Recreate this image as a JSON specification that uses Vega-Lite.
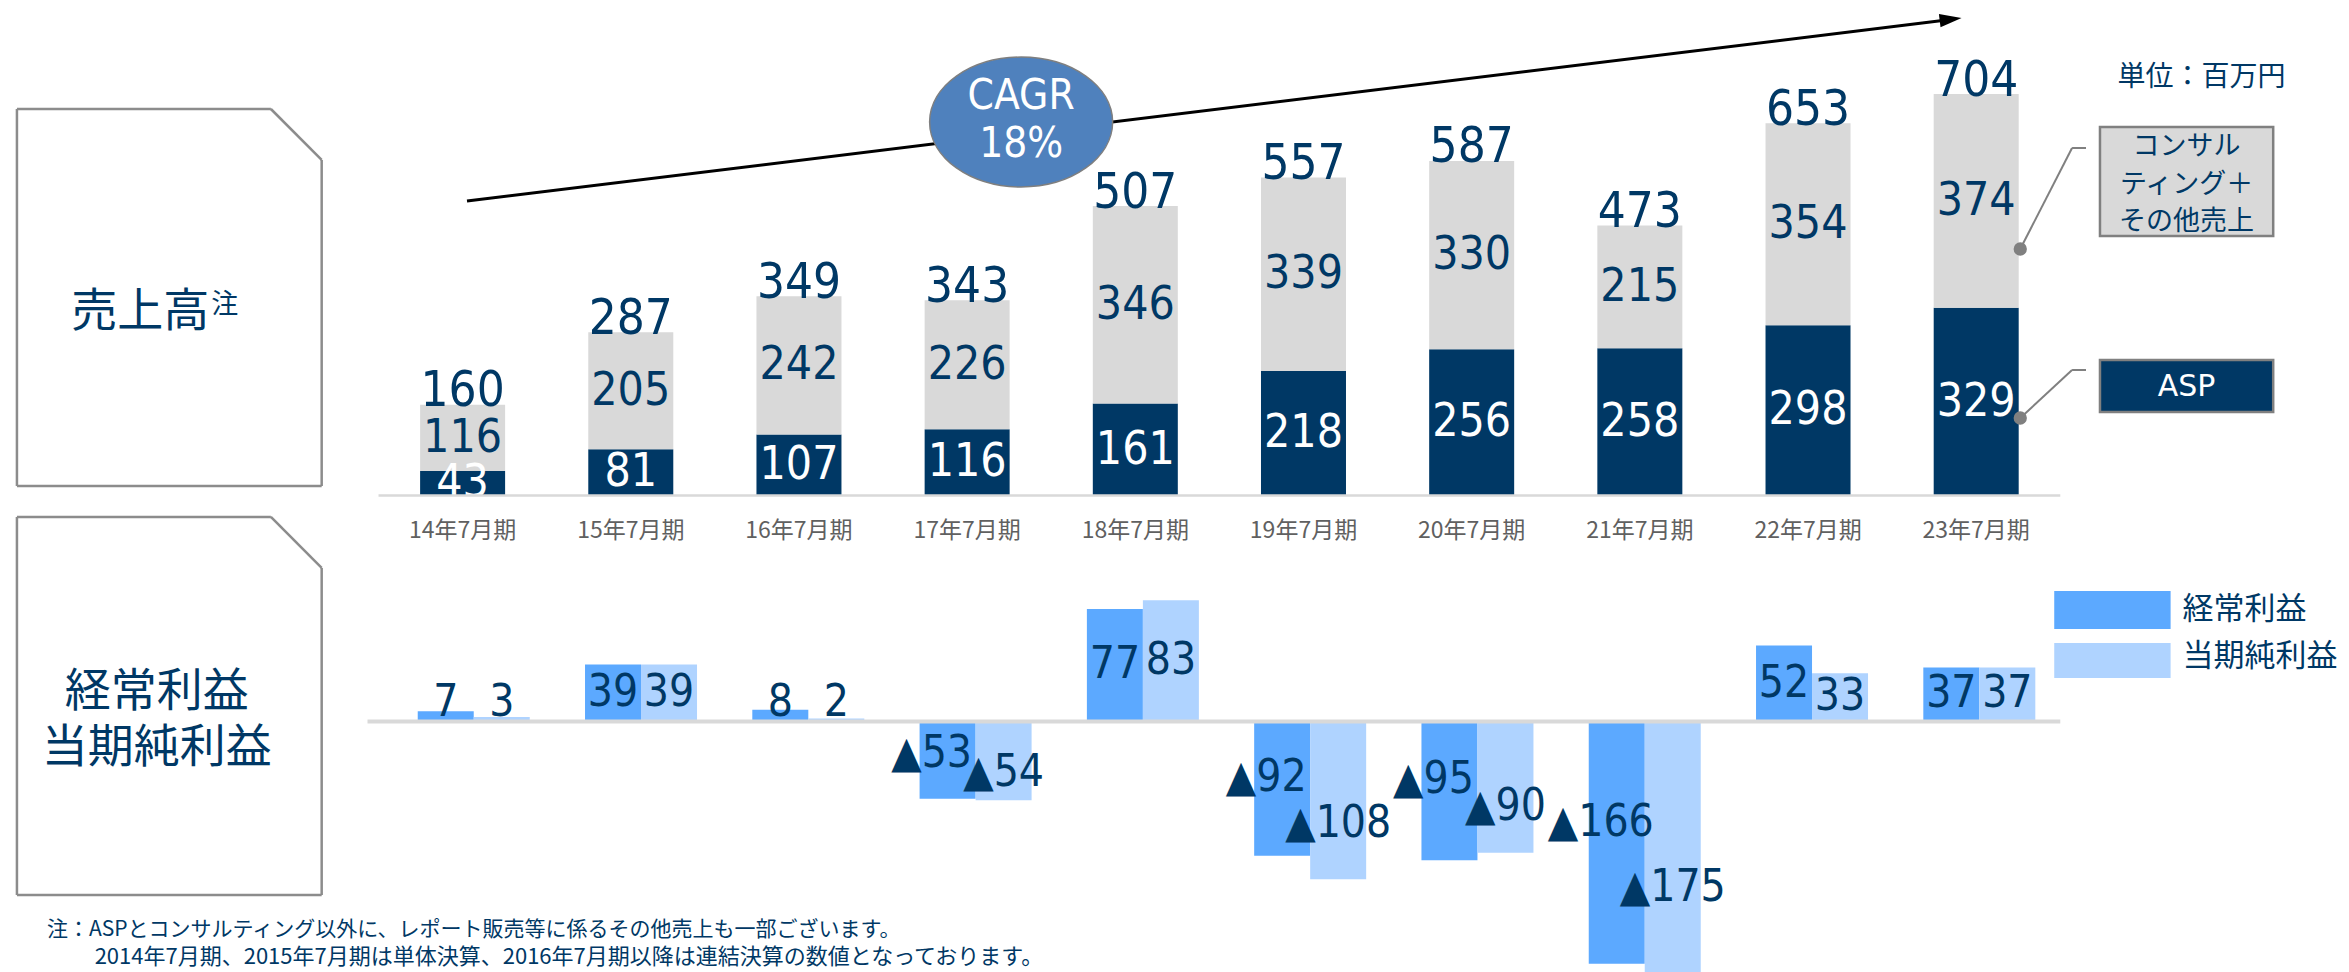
{
  "$schema": "https://vega.github.io/schema/vega-lite/v6.json",
  "width": 2349,
  "height": 972,
  "autosize": {"type": "none"},
  "padding": 0,
  "background": "#ffffff",
  "config": {
    "view": {"stroke": null},
    "axis": {"disable": true},
    "legend": {"disable": true},
    "locale": {"number": {"decimal": ".", "thousands": ",", "grouping": [3], "currency": ["", ""], "minus": "▲"}}
  },
  "datasets": {
    "sales": [
      {"period": "14年7月期", "year": 2014, "segment": "ASP", "value": 43},
      {"period": "14年7月期", "year": 2014, "segment": "コンサルティング＋その他売上", "value": 116},
      {"period": "15年7月期", "year": 2015, "segment": "ASP", "value": 81},
      {"period": "15年7月期", "year": 2015, "segment": "コンサルティング＋その他売上", "value": 205},
      {"period": "16年7月期", "year": 2016, "segment": "ASP", "value": 107},
      {"period": "16年7月期", "year": 2016, "segment": "コンサルティング＋その他売上", "value": 242},
      {"period": "17年7月期", "year": 2017, "segment": "ASP", "value": 116},
      {"period": "17年7月期", "year": 2017, "segment": "コンサルティング＋その他売上", "value": 226},
      {"period": "18年7月期", "year": 2018, "segment": "ASP", "value": 161},
      {"period": "18年7月期", "year": 2018, "segment": "コンサルティング＋その他売上", "value": 346},
      {"period": "19年7月期", "year": 2019, "segment": "ASP", "value": 218},
      {"period": "19年7月期", "year": 2019, "segment": "コンサルティング＋その他売上", "value": 339},
      {"period": "20年7月期", "year": 2020, "segment": "ASP", "value": 256},
      {"period": "20年7月期", "year": 2020, "segment": "コンサルティング＋その他売上", "value": 330},
      {"period": "21年7月期", "year": 2021, "segment": "ASP", "value": 258},
      {"period": "21年7月期", "year": 2021, "segment": "コンサルティング＋その他売上", "value": 215},
      {"period": "22年7月期", "year": 2022, "segment": "ASP", "value": 298},
      {"period": "22年7月期", "year": 2022, "segment": "コンサルティング＋その他売上", "value": 354},
      {"period": "23年7月期", "year": 2023, "segment": "ASP", "value": 329},
      {"period": "23年7月期", "year": 2023, "segment": "コンサルティング＋その他売上", "value": 374}
    ],
    "totals": [
      {"period": "14年7月期", "year": 2014, "total": 160},
      {"period": "15年7月期", "year": 2015, "total": 287},
      {"period": "16年7月期", "year": 2016, "total": 349},
      {"period": "17年7月期", "year": 2017, "total": 343},
      {"period": "18年7月期", "year": 2018, "total": 507},
      {"period": "19年7月期", "year": 2019, "total": 557},
      {"period": "20年7月期", "year": 2020, "total": 587},
      {"period": "21年7月期", "year": 2021, "total": 473},
      {"period": "22年7月期", "year": 2022, "total": 653},
      {"period": "23年7月期", "year": 2023, "total": 704}
    ],
    "profit": [
      {"period": "14年7月期", "year": 2014, "kind": "経常利益", "value": 7},
      {"period": "14年7月期", "year": 2014, "kind": "当期純利益", "value": 3},
      {"period": "15年7月期", "year": 2015, "kind": "経常利益", "value": 39},
      {"period": "15年7月期", "year": 2015, "kind": "当期純利益", "value": 39},
      {"period": "16年7月期", "year": 2016, "kind": "経常利益", "value": 8},
      {"period": "16年7月期", "year": 2016, "kind": "当期純利益", "value": 2},
      {"period": "17年7月期", "year": 2017, "kind": "経常利益", "value": -53},
      {"period": "17年7月期", "year": 2017, "kind": "当期純利益", "value": -54},
      {"period": "18年7月期", "year": 2018, "kind": "経常利益", "value": 77},
      {"period": "18年7月期", "year": 2018, "kind": "当期純利益", "value": 83},
      {"period": "19年7月期", "year": 2019, "kind": "経常利益", "value": -92},
      {"period": "19年7月期", "year": 2019, "kind": "当期純利益", "value": -108},
      {"period": "20年7月期", "year": 2020, "kind": "経常利益", "value": -95},
      {"period": "20年7月期", "year": 2020, "kind": "当期純利益", "value": -90},
      {"period": "21年7月期", "year": 2021, "kind": "経常利益", "value": -166},
      {"period": "21年7月期", "year": 2021, "kind": "当期純利益", "value": -175},
      {"period": "22年7月期", "year": 2022, "kind": "経常利益", "value": 52},
      {"period": "22年7月期", "year": 2022, "kind": "当期純利益", "value": 33},
      {"period": "23年7月期", "year": 2023, "kind": "経常利益", "value": 37},
      {"period": "23年7月期", "year": 2023, "kind": "当期純利益", "value": 37}
    ]
  },
  "layer": [
    {
      "layer": [
        {
          "data": {"name": "sales"},
          "mark": {"type": "bar", "orient": "vertical", "width": 85},
          "encoding": {
            "x": {"field": "year", "type": "quantitative", "scale": {"domain": [2011.279, 2025.187], "nice": false, "zero": false}, "axis": null},
            "y": {"field": "value", "type": "quantitative", "stack": "zero", "scale": {"domain": [-834.5, 867.8], "nice": false, "zero": false}, "axis": null},
            "color": {"field": "segment", "type": "nominal", "scale": {"domain": ["ASP", "コンサルティング＋その他売上"], "range": ["#003865", "#D9D9D9"]}, "legend": null},
            "order": {"field": "segment", "sort": "ascending"}
          }
        },
        {
          "data": {"name": "sales"},
          "mark": {"type": "text", "font": "DejaVu Sans Condensed, DejaVu Sans", "fontSize": 46, "baseline": "middle", "align": "center"},
          "encoding": {
            "x": {"field": "year", "type": "quantitative", "scale": {"domain": [2011.279, 2025.187], "nice": false, "zero": false}, "axis": null},
            "y": {"field": "value", "type": "quantitative", "stack": "zero", "bandPosition": 0.5, "scale": {"domain": [-834.5, 867.8], "nice": false, "zero": false}, "axis": null},
            "detail": {"field": "segment"},
            "order": {"field": "segment", "sort": "ascending"},
            "text": {"field": "value", "type": "quantitative"},
            "color": {"condition": {"test": "datum.segment === 'ASP'", "value": "#ffffff"}, "value": "#003865"}
          }
        },
        {
          "data": {"name": "totals"},
          "mark": {"type": "text", "font": "DejaVu Sans Condensed, DejaVu Sans", "fontSize": 49, "baseline": "alphabetic", "align": "center", "dy": 2, "color": "#003865"},
          "encoding": {
            "x": {"field": "year", "type": "quantitative", "scale": {"domain": [2011.279, 2025.187], "nice": false, "zero": false}, "axis": null},
            "y": {"field": "total", "type": "quantitative", "scale": {"domain": [-834.5, 867.8], "nice": false, "zero": false}, "axis": null},
            "text": {"field": "total", "type": "quantitative"}
          }
        },
        {
          "data": {"name": "totals"},
          "mark": {"type": "text", "font": "Noto Sans CJK JP", "fontSize": 23, "baseline": "middle", "align": "center", "dy": 35, "color": "#606060"},
          "encoding": {
            "x": {"field": "year", "type": "quantitative", "scale": {"domain": [2011.279, 2025.187], "nice": false, "zero": false}, "axis": null},
            "y": {"datum": 0, "type": "quantitative", "scale": {"domain": [-834.5, 867.8], "nice": false, "zero": false}, "axis": null},
            "text": {"field": "period", "type": "nominal"}
          }
        },
        {
          "data": {"values": [{}]},
          "layer": [
            {"mark": {"type": "rule", "stroke": "#D9D9D9", "strokeWidth": 2.5},
             "encoding": {"x": {"datum": 2013.5, "type": "quantitative", "scale": {"domain": [2011.279, 2025.187], "nice": false, "zero": false}}, "x2": {"datum": 2023.5}, "y": {"datum": 0, "type": "quantitative", "scale": {"domain": [-834.5, 867.8], "nice": false, "zero": false}}}},
            {"mark": {"type": "rule", "stroke": "#000000", "strokeWidth": 3},
             "encoding": {"x": {"datum": 2014.026, "type": "quantitative", "scale": {"domain": [2011.279, 2025.187], "nice": false, "zero": false}}, "x2": {"datum": 2022.824}, "y": {"datum": 515.8, "type": "quantitative", "scale": {"domain": [-834.5, 867.8], "nice": false, "zero": false}}, "y2": {"datum": 832.7}}},
            {"mark": {"type": "point", "shape": "M0,-1L0.6,1L-0.6,1Z", "size": 484, "angle": 83, "filled": true, "color": "#000000", "opacity": 1},
             "encoding": {"x": {"datum": 2022.848, "type": "quantitative", "scale": {"domain": [2011.279, 2025.187], "nice": false, "zero": false}}, "y": {"datum": 834.0, "type": "quantitative", "scale": {"domain": [-834.5, 867.8], "nice": false, "zero": false}}}},
            {"mark": {"type": "point", "shape": "M-1,0A1,0.71,0,1,0,1,0A1,0.71,0,1,0,-1,0Z", "size": 33489, "filled": true, "fill": "#4F81BD", "stroke": "#7F7F7F", "strokeWidth": 1.5, "opacity": 1},
             "encoding": {"x": {"datum": 2017.321, "type": "quantitative", "scale": {"domain": [2011.279, 2025.187], "nice": false, "zero": false}}, "y": {"datum": 654.1, "type": "quantitative", "scale": {"domain": [-834.5, 867.8], "nice": false, "zero": false}}}},
            {"mark": {"type": "text", "text": ["CAGR", "18%"], "lineHeight": 48, "font": "DejaVu Sans Condensed, DejaVu Sans", "fontSize": 42, "baseline": "middle", "align": "center", "color": "#ffffff"},
             "encoding": {"x": {"datum": 2017.321, "type": "quantitative", "scale": {"domain": [2011.279, 2025.187], "nice": false, "zero": false}}, "y": {"datum": 699.6, "type": "quantitative", "scale": {"domain": [-834.5, 867.8], "nice": false, "zero": false}}}},
            {"mark": {"type": "text", "text": "単位：百万円", "font": "Noto Sans CJK JP", "fontSize": 28, "baseline": "middle", "align": "center", "color": "#003865"},
             "encoding": {"x": {"datum": 2024.34, "type": "quantitative", "scale": {"domain": [2011.279, 2025.187], "nice": false, "zero": false}}, "y": {"datum": 731.2, "type": "quantitative", "scale": {"domain": [-834.5, 867.8], "nice": false, "zero": false}}}},
            {"mark": {"type": "rule", "stroke": "#808080", "strokeWidth": 2},
             "encoding": {"x": {"datum": 2023.262, "type": "quantitative", "scale": {"domain": [2011.279, 2025.187], "nice": false, "zero": false}}, "x2": {"datum": 2023.57}, "y": {"datum": 431.7, "type": "quantitative", "scale": {"domain": [-834.5, 867.8], "nice": false, "zero": false}}, "y2": {"datum": 608.6}}},
            {"mark": {"type": "rule", "stroke": "#808080", "strokeWidth": 2},
             "encoding": {"x": {"datum": 2023.57, "type": "quantitative", "scale": {"domain": [2011.279, 2025.187], "nice": false, "zero": false}}, "x2": {"datum": 2023.653}, "y": {"datum": 608.6, "type": "quantitative", "scale": {"domain": [-834.5, 867.8], "nice": false, "zero": false}}}},
            {"mark": {"type": "rule", "stroke": "#808080", "strokeWidth": 2},
             "encoding": {"x": {"datum": 2023.262, "type": "quantitative", "scale": {"domain": [2011.279, 2025.187], "nice": false, "zero": false}}, "x2": {"datum": 2023.57}, "y": {"datum": 135.7, "type": "quantitative", "scale": {"domain": [-834.5, 867.8], "nice": false, "zero": false}}, "y2": {"datum": 219.8}}},
            {"mark": {"type": "rule", "stroke": "#808080", "strokeWidth": 2},
             "encoding": {"x": {"datum": 2023.57, "type": "quantitative", "scale": {"domain": [2011.279, 2025.187], "nice": false, "zero": false}}, "x2": {"datum": 2023.653}, "y": {"datum": 219.8, "type": "quantitative", "scale": {"domain": [-834.5, 867.8], "nice": false, "zero": false}}}},
            {"mark": {"type": "circle", "size": 177, "color": "#808080", "opacity": 1},
             "encoding": {"x": {"datum": 2023.262, "type": "quantitative", "scale": {"domain": [2011.279, 2025.187], "nice": false, "zero": false}}, "y": {"datum": 431.7, "type": "quantitative", "scale": {"domain": [-834.5, 867.8], "nice": false, "zero": false}}}},
            {"mark": {"type": "circle", "size": 177, "color": "#808080", "opacity": 1},
             "encoding": {"x": {"datum": 2023.262, "type": "quantitative", "scale": {"domain": [2011.279, 2025.187], "nice": false, "zero": false}}, "y": {"datum": 135.7, "type": "quantitative", "scale": {"domain": [-834.5, 867.8], "nice": false, "zero": false}}}},
            {"mark": {"type": "rect", "fill": "#D9D9D9", "stroke": "#808080", "strokeWidth": 2.5},
             "encoding": {"x": {"datum": 2023.736, "type": "quantitative", "scale": {"domain": [2011.279, 2025.187], "nice": false, "zero": false}}, "x2": {"datum": 2024.766}, "y": {"datum": 645.4, "type": "quantitative", "scale": {"domain": [-834.5, 867.8], "nice": false, "zero": false}}, "y2": {"datum": 454.5}}},
            {"mark": {"type": "text", "text": ["コンサル", "ティング＋", "その他売上"], "lineHeight": 37.5, "font": "Noto Sans CJK JP", "fontSize": 27, "baseline": "middle", "align": "center", "color": "#003865"},
             "encoding": {"x": {"datum": 2024.251, "type": "quantitative", "scale": {"domain": [2011.279, 2025.187], "nice": false, "zero": false}}, "y": {"datum": 610.3, "type": "quantitative", "scale": {"domain": [-834.5, 867.8], "nice": false, "zero": false}}}},
            {"mark": {"type": "rect", "fill": "#003865", "stroke": "#808080", "strokeWidth": 2.5},
             "encoding": {"x": {"datum": 2023.736, "type": "quantitative", "scale": {"domain": [2011.279, 2025.187], "nice": false, "zero": false}}, "x2": {"datum": 2024.766}, "y": {"datum": 237.3, "type": "quantitative", "scale": {"domain": [-834.5, 867.8], "nice": false, "zero": false}}, "y2": {"datum": 146.2}}},
            {"mark": {"type": "text", "text": "ASP", "font": "DejaVu Sans", "fontSize": 30, "baseline": "middle", "align": "center", "color": "#ffffff"},
             "encoding": {"x": {"datum": 2024.251, "type": "quantitative", "scale": {"domain": [2011.279, 2025.187], "nice": false, "zero": false}}, "y": {"datum": 190.0, "type": "quantitative", "scale": {"domain": [-834.5, 867.8], "nice": false, "zero": false}}}},
            {"mark": {"type": "rule", "stroke": "#8C8C8C", "strokeWidth": 2.5},
             "encoding": {"x": {"datum": 2011.35, "type": "quantitative", "scale": {"domain": [2011.279, 2025.187], "nice": false, "zero": false}}, "x2": {"datum": 2012.86}, "y": {"datum": 676.9, "type": "quantitative", "scale": {"domain": [-834.5, 867.8], "nice": false, "zero": false}}}},
            {"mark": {"type": "rule", "stroke": "#8C8C8C", "strokeWidth": 2.5},
             "encoding": {"x": {"datum": 2012.86, "type": "quantitative", "scale": {"domain": [2011.279, 2025.187], "nice": false, "zero": false}}, "x2": {"datum": 2013.162}, "y": {"datum": 676.9, "type": "quantitative", "scale": {"domain": [-834.5, 867.8], "nice": false, "zero": false}}, "y2": {"datum": 587.6}}},
            {"mark": {"type": "rule", "stroke": "#8C8C8C", "strokeWidth": 2.5},
             "encoding": {"x": {"datum": 2013.162, "type": "quantitative", "scale": {"domain": [2011.279, 2025.187], "nice": false, "zero": false}}, "y": {"datum": 587.6, "type": "quantitative", "scale": {"domain": [-834.5, 867.8], "nice": false, "zero": false}}, "y2": {"datum": 16.6}}},
            {"mark": {"type": "rule", "stroke": "#8C8C8C", "strokeWidth": 2.5},
             "encoding": {"x": {"datum": 2011.35, "type": "quantitative", "scale": {"domain": [2011.279, 2025.187], "nice": false, "zero": false}}, "x2": {"datum": 2013.162}, "y": {"datum": 16.6, "type": "quantitative", "scale": {"domain": [-834.5, 867.8], "nice": false, "zero": false}}}},
            {"mark": {"type": "rule", "stroke": "#8C8C8C", "strokeWidth": 2.5},
             "encoding": {"x": {"datum": 2011.35, "type": "quantitative", "scale": {"domain": [2011.279, 2025.187], "nice": false, "zero": false}}, "y": {"datum": 676.9, "type": "quantitative", "scale": {"domain": [-834.5, 867.8], "nice": false, "zero": false}}, "y2": {"datum": 16.6}}},
            {"mark": {"type": "text", "text": "売上高", "font": "Noto Sans CJK JP", "fontSize": 46, "baseline": "middle", "align": "right", "color": "#003865"},
             "encoding": {"x": {"datum": 2012.493, "type": "quantitative", "scale": {"domain": [2011.279, 2025.187], "nice": false, "zero": false}}, "y": {"datum": 321.4, "type": "quantitative", "scale": {"domain": [-834.5, 867.8], "nice": false, "zero": false}}}},
            {"mark": {"type": "text", "text": "注", "font": "Noto Sans CJK JP", "fontSize": 27, "baseline": "middle", "align": "left", "color": "#003865"},
             "encoding": {"x": {"datum": 2012.505, "type": "quantitative", "scale": {"domain": [2011.279, 2025.187], "nice": false, "zero": false}}, "y": {"datum": 333.6, "type": "quantitative", "scale": {"domain": [-834.5, 867.8], "nice": false, "zero": false}}}},
            {"mark": {"type": "rule", "stroke": "#8C8C8C", "strokeWidth": 2.5},
             "encoding": {"x": {"datum": 2011.35, "type": "quantitative", "scale": {"domain": [2011.279, 2025.187], "nice": false, "zero": false}}, "x2": {"datum": 2012.86}, "y": {"datum": -37.6, "type": "quantitative", "scale": {"domain": [-834.5, 867.8], "nice": false, "zero": false}}}},
            {"mark": {"type": "rule", "stroke": "#8C8C8C", "strokeWidth": 2.5},
             "encoding": {"x": {"datum": 2012.86, "type": "quantitative", "scale": {"domain": [2011.279, 2025.187], "nice": false, "zero": false}}, "x2": {"datum": 2013.162}, "y": {"datum": -37.6, "type": "quantitative", "scale": {"domain": [-834.5, 867.8], "nice": false, "zero": false}}, "y2": {"datum": -126.9}}},
            {"mark": {"type": "rule", "stroke": "#8C8C8C", "strokeWidth": 2.5},
             "encoding": {"x": {"datum": 2013.162, "type": "quantitative", "scale": {"domain": [2011.279, 2025.187], "nice": false, "zero": false}}, "y": {"datum": -126.9, "type": "quantitative", "scale": {"domain": [-834.5, 867.8], "nice": false, "zero": false}}, "y2": {"datum": -699.6}}},
            {"mark": {"type": "rule", "stroke": "#8C8C8C", "strokeWidth": 2.5},
             "encoding": {"x": {"datum": 2011.35, "type": "quantitative", "scale": {"domain": [2011.279, 2025.187], "nice": false, "zero": false}}, "x2": {"datum": 2013.162}, "y": {"datum": -699.6, "type": "quantitative", "scale": {"domain": [-834.5, 867.8], "nice": false, "zero": false}}}},
            {"mark": {"type": "rule", "stroke": "#8C8C8C", "strokeWidth": 2.5},
             "encoding": {"x": {"datum": 2011.35, "type": "quantitative", "scale": {"domain": [2011.279, 2025.187], "nice": false, "zero": false}}, "y": {"datum": -37.6, "type": "quantitative", "scale": {"domain": [-834.5, 867.8], "nice": false, "zero": false}}, "y2": {"datum": -699.6}}},
            {"mark": {"type": "text", "text": ["経常利益", "当期純利益"], "lineHeight": 56, "font": "Noto Sans CJK JP", "fontSize": 46, "baseline": "middle", "align": "center", "color": "#003865"},
             "encoding": {"x": {"datum": 2012.182, "type": "quantitative", "scale": {"domain": [2011.279, 2025.187], "nice": false, "zero": false}}, "y": {"datum": -344.1, "type": "quantitative", "scale": {"domain": [-834.5, 867.8], "nice": false, "zero": false}}}},
            {"mark": {"type": "rect", "fill": "#5CA9FF"},
             "encoding": {"x": {"datum": 2023.464, "type": "quantitative", "scale": {"domain": [2011.279, 2025.187], "nice": false, "zero": false}}, "x2": {"datum": 2024.156}, "y": {"datum": -167.2, "type": "quantitative", "scale": {"domain": [-834.5, 867.8], "nice": false, "zero": false}}, "y2": {"datum": -233.8}}},
            {"mark": {"type": "rect", "fill": "#AFD3FF"},
             "encoding": {"x": {"datum": 2023.464, "type": "quantitative", "scale": {"domain": [2011.279, 2025.187], "nice": false, "zero": false}}, "x2": {"datum": 2024.156}, "y": {"datum": -258.3, "type": "quantitative", "scale": {"domain": [-834.5, 867.8], "nice": false, "zero": false}}, "y2": {"datum": -319.6}}},
            {"mark": {"type": "text", "text": "経常利益", "font": "Noto Sans CJK JP", "fontSize": 31, "baseline": "middle", "align": "left", "color": "#003865"},
             "encoding": {"x": {"datum": 2024.227, "type": "quantitative", "scale": {"domain": [2011.279, 2025.187], "nice": false, "zero": false}}, "y": {"datum": -200.5, "type": "quantitative", "scale": {"domain": [-834.5, 867.8], "nice": false, "zero": false}}}},
            {"mark": {"type": "text", "text": "当期純利益", "font": "Noto Sans CJK JP", "fontSize": 31, "baseline": "middle", "align": "left", "color": "#003865"},
             "encoding": {"x": {"datum": 2024.227, "type": "quantitative", "scale": {"domain": [2011.279, 2025.187], "nice": false, "zero": false}}, "y": {"datum": -282.8, "type": "quantitative", "scale": {"domain": [-834.5, 867.8], "nice": false, "zero": false}}}},
            {"mark": {"type": "text", "text": "注：ASPとコンサルティング以外に、レポート販売等に係るその他売上も一部ございます。", "font": "Noto Sans CJK JP", "fontSize": 21, "baseline": "middle", "align": "left", "color": "#003865"},
             "encoding": {"x": {"datum": 2011.528, "type": "quantitative", "scale": {"domain": [2011.279, 2025.187], "nice": false, "zero": false}}, "y": {"datum": -761.0, "type": "quantitative", "scale": {"domain": [-834.5, 867.8], "nice": false, "zero": false}}}},
            {"mark": {"type": "text", "text": "2014年7月期、2015年7月期は単体決算、2016年7月期以降は連結決算の数値となっております。", "font": "Noto Sans CJK JP", "fontSize": 22, "baseline": "middle", "align": "left", "color": "#003865"},
             "encoding": {"x": {"datum": 2011.812, "type": "quantitative", "scale": {"domain": [2011.279, 2025.187], "nice": false, "zero": false}}, "y": {"datum": -808.3, "type": "quantitative", "scale": {"domain": [-834.5, 867.8], "nice": false, "zero": false}}}}
          ]
        }
      ]
    },
    {
      "data": {"name": "profit"},
      "layer": [
        {
          "transform": [{"filter": "datum.kind === '経常利益'"}],
          "mark": {"type": "bar", "orient": "vertical", "width": 56, "xOffset": -28, "color": "#5CA9FF", "clip": true},
          "encoding": {
            "x": {"field": "year", "type": "quantitative", "scale": {"domain": [2011.198, 2025.18], "nice": false, "zero": false}, "axis": null},
            "y": {"field": "value", "type": "quantitative", "scale": {"domain": [-171.6, 494.2], "nice": false, "zero": false}, "axis": null}
          }
        },
        {
          "transform": [{"filter": "datum.kind === '当期純利益'"}],
          "mark": {"type": "bar", "orient": "vertical", "width": 56, "xOffset": 28, "color": "#AFD3FF", "clip": true},
          "encoding": {
            "x": {"field": "year", "type": "quantitative", "scale": {"domain": [2011.198, 2025.18], "nice": false, "zero": false}, "axis": null},
            "y": {"field": "value", "type": "quantitative", "scale": {"domain": [-171.6, 494.2], "nice": false, "zero": false}, "axis": null}
          }
        },
        {
          "data": {"values": [{}]},
          "mark": {"type": "rule", "stroke": "#D9D9D9", "strokeWidth": 4},
          "encoding": {
            "x": {"datum": 2013.365, "type": "quantitative", "scale": {"domain": [2011.198, 2025.18], "nice": false, "zero": false}},
            "x2": {"datum": 2023.484},
            "y": {"datum": 0, "type": "quantitative", "scale": {"domain": [-171.6, 494.2], "nice": false, "zero": false}}
          }
        },
        {
          "transform": [{"filter": "datum.kind === '経常利益' && datum.value >= 15"}],
          "mark": {"type": "text", "font": "DejaVu Sans Condensed, DejaVu Sans", "fontSize": 44, "baseline": "middle", "align": "center", "dx": -28, "color": "#003865"},
          "encoding": {
            "x": {"field": "year", "type": "quantitative", "scale": {"domain": [2011.198, 2025.18], "nice": false, "zero": false}},
            "y": {"field": "value", "type": "quantitative", "stack": "zero", "bandPosition": 0.5, "scale": {"domain": [-171.6, 494.2], "nice": false, "zero": false}},
            "text": {"field": "value", "type": "quantitative"}
          }
        },
        {
          "transform": [{"filter": "datum.kind === '当期純利益' && datum.value >= 15"}],
          "mark": {"type": "text", "font": "DejaVu Sans Condensed, DejaVu Sans", "fontSize": 44, "baseline": "middle", "align": "center", "dx": 28, "color": "#003865"},
          "encoding": {
            "x": {"field": "year", "type": "quantitative", "scale": {"domain": [2011.198, 2025.18], "nice": false, "zero": false}},
            "y": {"field": "value", "type": "quantitative", "stack": "zero", "bandPosition": 0.5, "scale": {"domain": [-171.6, 494.2], "nice": false, "zero": false}},
            "text": {"field": "value", "type": "quantitative"}
          }
        },
        {
          "transform": [{"filter": "datum.kind === '経常利益' && datum.value >= 0 && datum.value < 15"}],
          "mark": {"type": "text", "font": "DejaVu Sans Condensed, DejaVu Sans", "fontSize": 44, "baseline": "alphabetic", "align": "center", "dx": -28, "dy": -5, "color": "#003865"},
          "encoding": {
            "x": {"field": "year", "type": "quantitative", "scale": {"domain": [2011.198, 2025.18], "nice": false, "zero": false}},
            "y": {"datum": 0, "type": "quantitative", "scale": {"domain": [-171.6, 494.2], "nice": false, "zero": false}},
            "text": {"field": "value", "type": "quantitative"}
          }
        },
        {
          "transform": [{"filter": "datum.kind === '当期純利益' && datum.value >= 0 && datum.value < 15"}],
          "mark": {"type": "text", "font": "DejaVu Sans Condensed, DejaVu Sans", "fontSize": 44, "baseline": "alphabetic", "align": "center", "dx": 28, "dy": -5, "color": "#003865"},
          "encoding": {
            "x": {"field": "year", "type": "quantitative", "scale": {"domain": [2011.198, 2025.18], "nice": false, "zero": false}},
            "y": {"datum": 0, "type": "quantitative", "scale": {"domain": [-171.6, 494.2], "nice": false, "zero": false}},
            "text": {"field": "value", "type": "quantitative"}
          }
        },
        {
          "transform": [{"filter": "datum.kind === '経常利益' && datum.value < 0"}],
          "mark": {"type": "text", "font": "DejaVu Sans Condensed, DejaVu Sans", "fontSize": 44, "baseline": "middle", "align": "center", "dx": -44, "color": "#003865"},
          "encoding": {
            "x": {"field": "year", "type": "quantitative", "scale": {"domain": [2011.198, 2025.18], "nice": false, "zero": false}},
            "y": {"field": "value", "type": "quantitative", "stack": "zero", "bandPosition": 0.42, "scale": {"domain": [-171.6, 494.2], "nice": false, "zero": false}},
            "text": {"field": "value", "type": "quantitative", "format": "d"}
          }
        },
        {
          "transform": [{"filter": "datum.kind === '当期純利益' && datum.value < 0"}],
          "mark": {"type": "text", "font": "DejaVu Sans Condensed, DejaVu Sans", "fontSize": 44, "baseline": "middle", "align": "center", "dx": 28, "color": "#003865"},
          "encoding": {
            "x": {"field": "year", "type": "quantitative", "scale": {"domain": [2011.198, 2025.18], "nice": false, "zero": false}},
            "y": {"field": "value", "type": "quantitative", "stack": "zero", "bandPosition": 0.65, "scale": {"domain": [-171.6, 494.2], "nice": false, "zero": false}},
            "text": {"field": "value", "type": "quantitative", "format": "d"}
          }
        }
      ]
    }
  ],
  "resolve": {"scale": {"x": "independent", "y": "independent"}}
}
